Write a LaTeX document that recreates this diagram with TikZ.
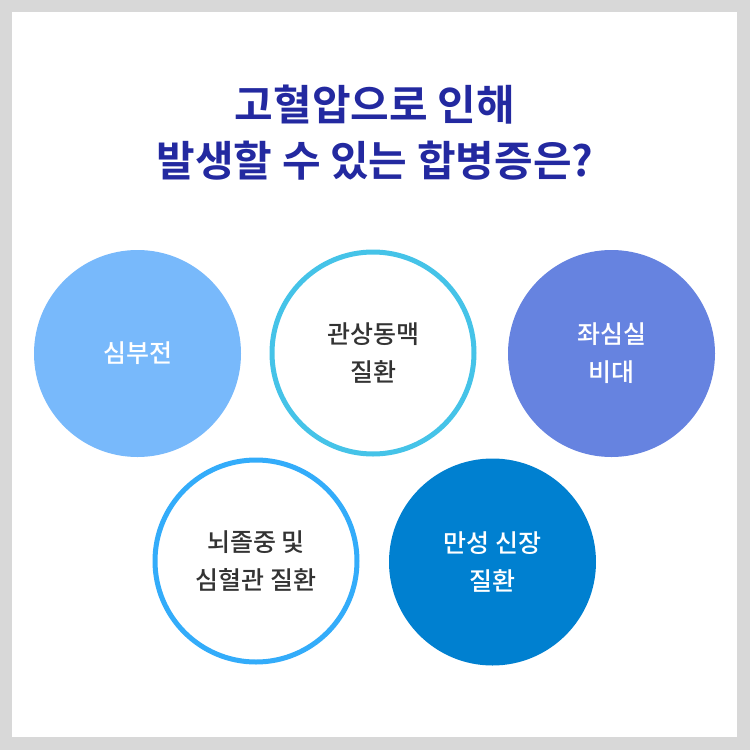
\documentclass[tikz,border=0pt]{standalone}
\usepackage{fontspec}
\newfontfamily\kr{Noto Sans CJK KR}
\newfontfamily\krb{Noto Sans CJK KR Bold}
\newfontfamily\krm{Noto Sans CJK KR Medium}
\definecolor{bgGray}{HTML}{D8D8D8}
\definecolor{titleBlue}{HTML}{2329A0}
\definecolor{cA}{HTML}{78B9FB}
\definecolor{cB}{HTML}{45C3E8}
\definecolor{cC}{HTML}{6683E0}
\definecolor{cD}{HTML}{33ACFA}
\definecolor{cE}{HTML}{0080D0}
\definecolor{txtGray}{HTML}{333333}
\tikzset{
  filledc/.style={circle, minimum size=207pt, inner sep=0pt, text=white, align=center, font=\krm\fontsize{25}{38}\selectfont},
  ringc/.style={circle, minimum size=202pt, inner sep=0pt, line width=5pt, fill=white, text=txtGray, align=center, font=\krm\fontsize{25}{38}\selectfont},
  titletext/.style={text=titleBlue, align=center, font=\krb\fontsize{42}{56}\selectfont}
}
\begin{document}
\begin{tikzpicture}[x=1pt,y=-1pt]
\fill[bgGray] (0,0) rectangle (750,750);
\fill[white] (12,12) rectangle (737,737);
\useasboundingbox (0,0) rectangle (750,750);
\node[titletext] (title) at (375,133) {고혈압으로 인해\\발생할 수 있는 합병증은?};
\node[filledc, fill=cA] (c1) at (137.5,353.5) {심부전};
\node[ringc, draw=cB] (c2) at (373,353) {\raisebox{0pt}{관상동맥}\\질환};
\node[filledc, fill=cC] (c3) at (611.5,353.5) {좌심실\\비대};
\node[ringc, draw=cD] (c4) at (256,561) {뇌졸중 및\\심혈관 질환};
\node[filledc, fill=cE] (c5) at (492.5,562) {만성 신장\\질환};
\end{tikzpicture}
\end{document}
